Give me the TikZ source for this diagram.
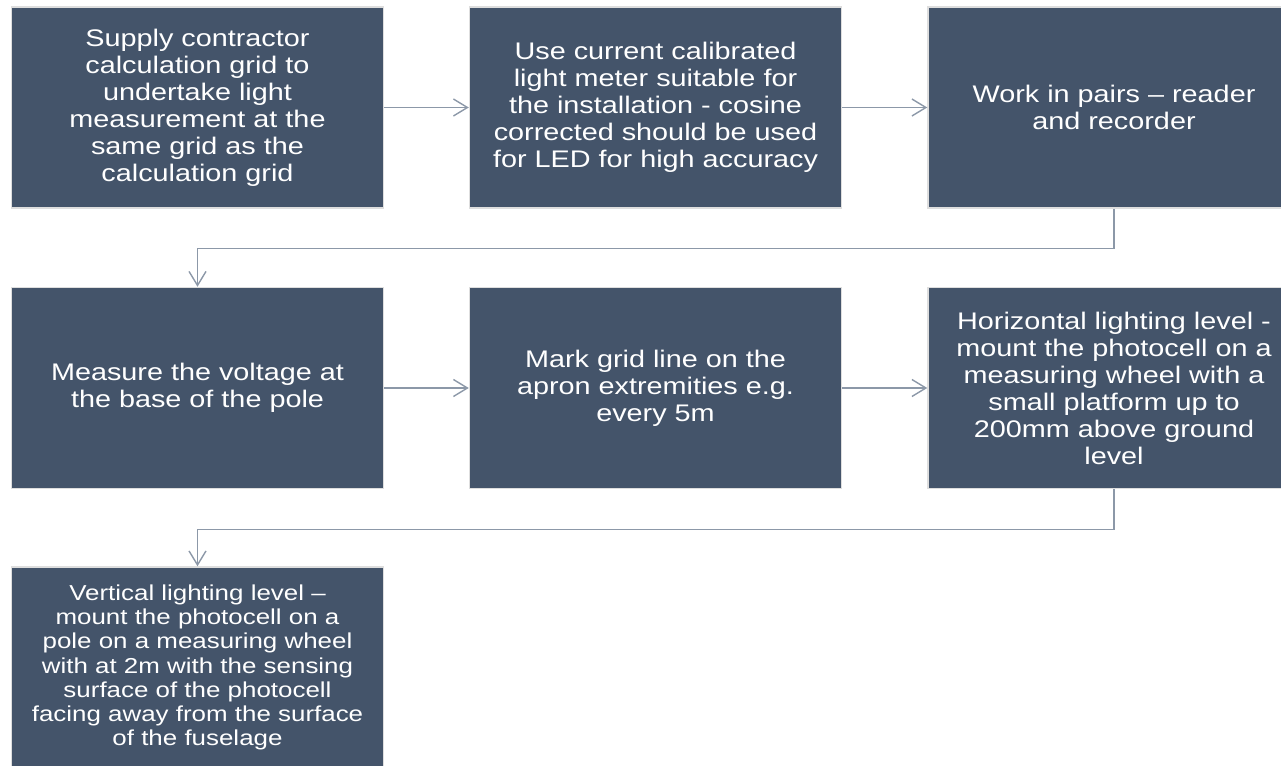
\documentclass[tikz,border=0pt]{standalone}
\usepackage{fontspec}
\setmainfont{Liberation Sans}[FakeStretch=1.2]
\usetikzlibrary{arrows.meta}

\definecolor{stepfill}{RGB}{68,84,106}
\definecolor{stepedge}{RGB}{222,222,222}
\definecolor{flowgray}{RGB}{140,152,168}

\begin{document}
\begin{tikzpicture}[x=1pt, y=-1pt,
  stepbox/.style={rectangle, fill=stepfill, draw=stepedge, line width=1.5pt,
    minimum width=372pt, minimum height=201pt, inner sep=0pt,
    text=white, align=center,
    font=\fontsize{24}{27}\selectfont},
  smalltext/.style={font=\fontsize{21.6}{24.3}\selectfont},
  flow/.style={draw=flowgray, line width=1.4pt,
    -{Straight Barb[length=14pt, width=17pt, line width=1.4pt]}}]

% page frame, boxes on the right and bottom run past it
\clip[use as bounding box] (0,0) rectangle (1281,765);
\fill[white] (0,0) rectangle (1281,765);

% first row
\node[stepbox] (supply) at (197.5, 107.5)
  {Supply contractor\\calculation grid to\\undertake light\\measurement at the\\same grid as the\\calculation grid};
\node[stepbox] (meter) at (655.5, 107.5)
  {Use current calibrated\\light meter suitable for\\the installation - cosine\\corrected should be used\\for LED for high accuracy};
\node[stepbox] (pairs) at (1114, 107.5)
  {Work in pairs -- reader\\and recorder};

% second row
\node[stepbox] (voltage) at (197.5, 388)
  {Measure the voltage at\\the base of the pole};
\node[stepbox] (gridline) at (655.5, 388)
  {Mark grid line on the\\apron extremities e.g.\\every 5m};
\node[stepbox] (horiz) at (1114, 388)
  {Horizontal lighting level -\\mount the photocell on a\\measuring wheel with a\\small platform up to\\200mm above ground\\level};

% third row
\node[stepbox, smalltext] (vert) at (197.5, 667.5)
  {Vertical lighting level --\\mount the photocell on a\\pole on a measuring wheel\\with at 2m with the sensing\\surface of the photocell\\facing away from the surface\\of the fuselage};

% arrows along each row
\draw[flow] (supply) -- (meter);
\draw[flow] (meter) -- (pairs);
\draw[flow] (voltage) -- (gridline);
\draw[flow] (gridline) -- (horiz);

% elbows down to the next row
\draw[flow] (pairs.south) -- ++(0,40) -| (voltage.north);
\draw[flow] (horiz.south) -- ++(0,40) -| (vert.north);

\end{tikzpicture}
\end{document}
